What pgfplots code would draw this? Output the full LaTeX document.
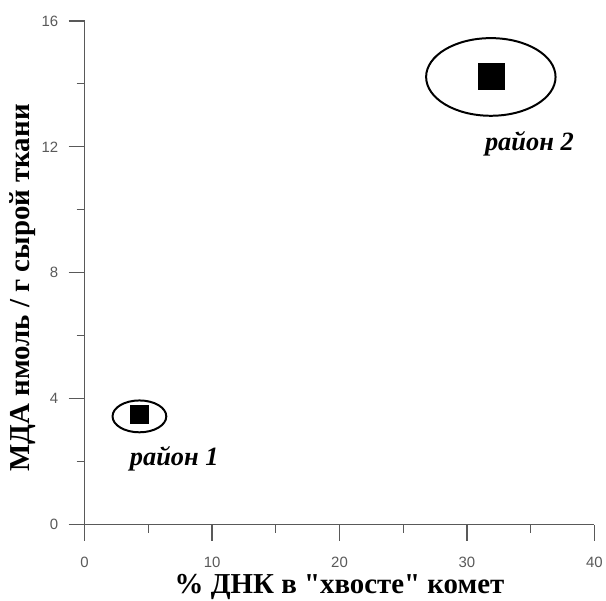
\documentclass[border=0pt]{standalone}
\usepackage{pgfplots}
\pgfplotsset{compat=1.18}
\usepackage{fontspec}
\setmainfont{Liberation Serif}
\newfontfamily\sansf{Liberation Sans}
\begin{document}
\begin{tikzpicture}
\begin{axis}[
  scale only axis, width=512pt, height=506pt,
  xmin=0, xmax=40, ymin=0, ymax=16,
  axis lines*=left,
  axis line style={black!65, line width=1.2pt},
  xtick={0,10,20,30,40}, ytick={0,4,8,12,16},
  minor tick num=1,
  tick align=outside,
  major tick length=16pt, minor tick length=8pt,
  tick style={black!65, line width=1.2pt},
  ticklabel style={font=\sansf\fontsize{15}{15}\selectfont, text=black!65},
  yticklabel style={xshift=-7pt},
  xticklabel style={yshift=-13pt},
  /pgf/number format/assume math mode=true,
  xlabel={\% ДНК в \textquotedbl хвосте\textquotedbl{} комет},
  ylabel={МДА нмоль / г сырой ткани},
  label style={font=\bfseries\fontsize{29}{29}\selectfont},
  xlabel style={at={(rel axis cs:0.5,0)}, anchor=center, yshift=-63pt, overlay},
  ylabel style={at={(rel axis cs:0,0.47)}, anchor=center, yshift=62pt},
  clip=false,
]
\addplot[only marks, mark=square*, mark size=9pt, black] coordinates {(4.3,3.5)};
\addplot[only marks, mark=square*, mark size=13pt, black] coordinates {(31.9,14.25)};
\draw[line width=2pt] (axis cs:4.3,3.44) ellipse [x radius=27pt, y radius=16pt];
\draw[line width=2pt] (axis cs:31.875,14.22) ellipse [x radius=65pt, y radius=39pt];
\node[font=\bfseries\itshape\fontsize{26.5}{26.5}\selectfont] at (axis cs:7.03,2.1) {район 1};
\node[font=\bfseries\itshape\fontsize{26.5}{26.5}\selectfont] at (axis cs:34.9,12.1) {район 2};
\path (rel axis cs:0,0) ++(-85pt,-76pt) rectangle ++(606pt,603pt);
\end{axis}
\end{tikzpicture}
\end{document}
